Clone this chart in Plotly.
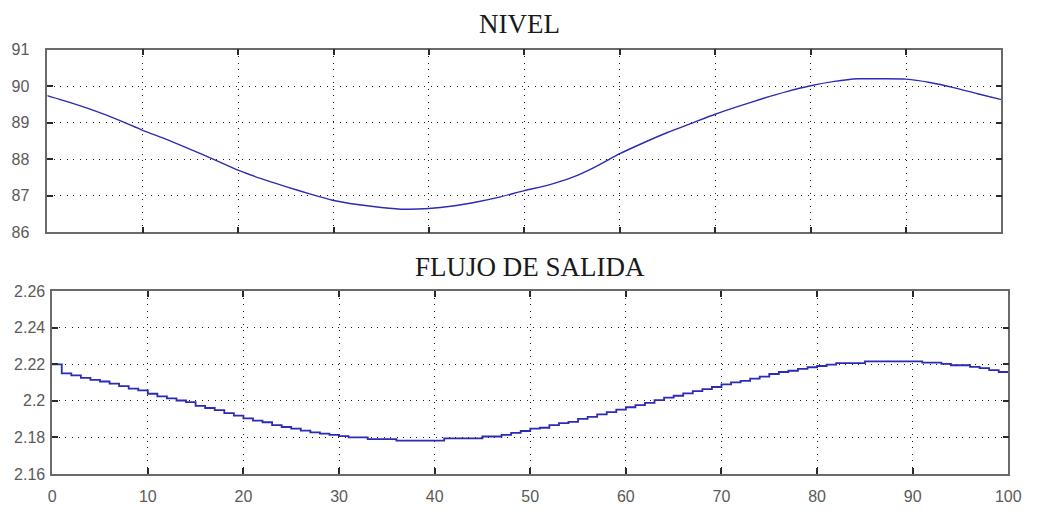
import plotly.graph_objects as go

# ---- data ----
level_x = [0, 2.5, 5, 7.5, 10, 12.5, 15, 17.5, 20, 22.5, 25, 27.5, 30, 32.5, 35, 37.5,
           40, 42.5, 45, 47.5, 50, 52.5, 55, 57.5, 60, 62.5, 65, 67.5, 70, 72.5, 75,
           77.5, 80, 82.5, 85, 87.5, 90, 92.5, 95, 97.5, 100]
level_y = [89.74, 89.54, 89.32, 89.07, 88.79, 88.54, 88.27, 87.99, 87.70, 87.46, 87.25,
           87.05, 86.87, 86.76, 86.68, 86.63, 86.65, 86.72, 86.83, 86.97, 87.14, 87.29,
           87.50, 87.80, 88.15, 88.45, 88.73, 88.98, 89.23, 89.45, 89.66, 89.85, 90.01,
           90.13, 90.20, 90.20, 90.19, 90.10, 89.96, 89.79, 89.63]

flow_x = list(range(0, 101))
flow_y = [2.2200, 2.2150, 2.2140, 2.2126, 2.2115, 2.2106, 2.2094, 2.2081, 2.2067, 2.2057,
          2.2039, 2.2025, 2.2014, 2.2002, 2.1993, 2.1973, 2.1961, 2.1949, 2.1933, 2.1919,
          2.1904, 2.1892, 2.1883, 2.1867, 2.1857, 2.1848, 2.1837, 2.1828, 2.1821, 2.1814,
          2.1807, 2.1800, 2.1800, 2.1791, 2.1791, 2.1791, 2.1782, 2.1782, 2.1782, 2.1782,
          2.1782, 2.1795, 2.1795, 2.1795, 2.1795, 2.1805, 2.1805, 2.1814, 2.1825, 2.1835,
          2.1848, 2.1853, 2.1867, 2.1878, 2.1885, 2.1901, 2.1912, 2.1926, 2.1938, 2.1952,
          2.1965, 2.1977, 2.1989, 2.2004, 2.2018, 2.2028, 2.2041, 2.2053, 2.2064, 2.2076,
          2.2090, 2.2101, 2.2110, 2.2122, 2.2133, 2.2147, 2.2158, 2.2165, 2.2175, 2.2184,
          2.2191, 2.2198, 2.2207, 2.2207, 2.2207, 2.2216, 2.2216, 2.2216, 2.2216, 2.2216,
          2.2216, 2.2209, 2.2209, 2.2202, 2.2195, 2.2195, 2.2186, 2.2179, 2.2168, 2.2158,
          2.2158]

x_ticks = [0, 10, 20, 30, 40, 50, 60, 70, 80, 90, 100]
level_ticks = [86, 87, 88, 89, 90, 91]
flow_ticks = [2.16, 2.18, 2.20, 2.22, 2.24, 2.26]
flow_ticktext = ["2.16", "2.18", "2.2", "2.22", "2.24", "2.26"]

W, H = 1039, 511
LINE = "#2b2bb5"
GRID = "#1a1a1a"
AXC = "#6a6a6a"
TICKFONT = dict(family="Liberation Sans, Arial, sans-serif", size=16, color="#5a5a5a")
TITLEFONT = dict(family="Liberation Serif, Times New Roman, serif", size=27, color="#1a1a1a")

fig = go.Figure()
fig.add_trace(go.Scatter(x=level_x, y=level_y, mode="lines", line_shape="spline",
                         line=dict(color=LINE, width=1.4, smoothing=0.6), xaxis="x", yaxis="y",
                         showlegend=False, hoverinfo="skip"))
fig.add_trace(go.Scatter(x=flow_x, y=flow_y, mode="lines", line_shape="hv",
                         line=dict(color=LINE, width=1.8), xaxis="x2", yaxis="y2",
                         showlegend=False, hoverinfo="skip"))

common_axis = dict(showline=True, linecolor=AXC, linewidth=1.5, mirror="allticks",
                   ticks="inside", ticklen=6, tickwidth=1.5, tickcolor="#2a2a2a",
                   showgrid=True, gridcolor=GRID, gridwidth=1, griddash="1px,5.5px",
                   zeroline=False, tickfont=TICKFONT, fixedrange=True)

def px_x(p):
    return p / W

def px_y(p):
    return 1 - p / H

fig.update_layout(
    width=W, height=H, margin=dict(l=0, r=0, t=0, b=0),
    paper_bgcolor="white", plot_bgcolor="white",
    xaxis=dict(domain=[px_x(44), px_x(1014)], range=[0, 100], tickvals=x_ticks,
               showticklabels=False, anchor="y", **common_axis),
    yaxis=dict(domain=[px_y(232), px_y(43)], range=[86, 91], tickvals=level_ticks,
               anchor="x", ticklabelstandoff=13, **common_axis),
    xaxis2=dict(domain=[px_x(49), px_x(1021)], range=[0, 100], tickvals=x_ticks,
                anchor="y2", ticklabelstandoff=7, **common_axis),
    yaxis2=dict(domain=[px_y(482), px_y(293)], range=[2.16, 2.26], tickvals=flow_ticks,
                ticktext=flow_ticktext, anchor="x2", ticklabelstandoff=2, **common_axis),
    annotations=[
        dict(text="NIVEL", x=px_x(524), y=px_y(17), xref="paper", yref="paper",
             xanchor="center", yanchor="middle", showarrow=False, font=TITLEFONT),
        dict(text="FLUJO DE SALIDA", x=px_x(535), y=px_y(268), xref="paper", yref="paper",
             xanchor="center", yanchor="middle", showarrow=False, font=TITLEFONT),
    ],
)

fig.write_html("out.html")
